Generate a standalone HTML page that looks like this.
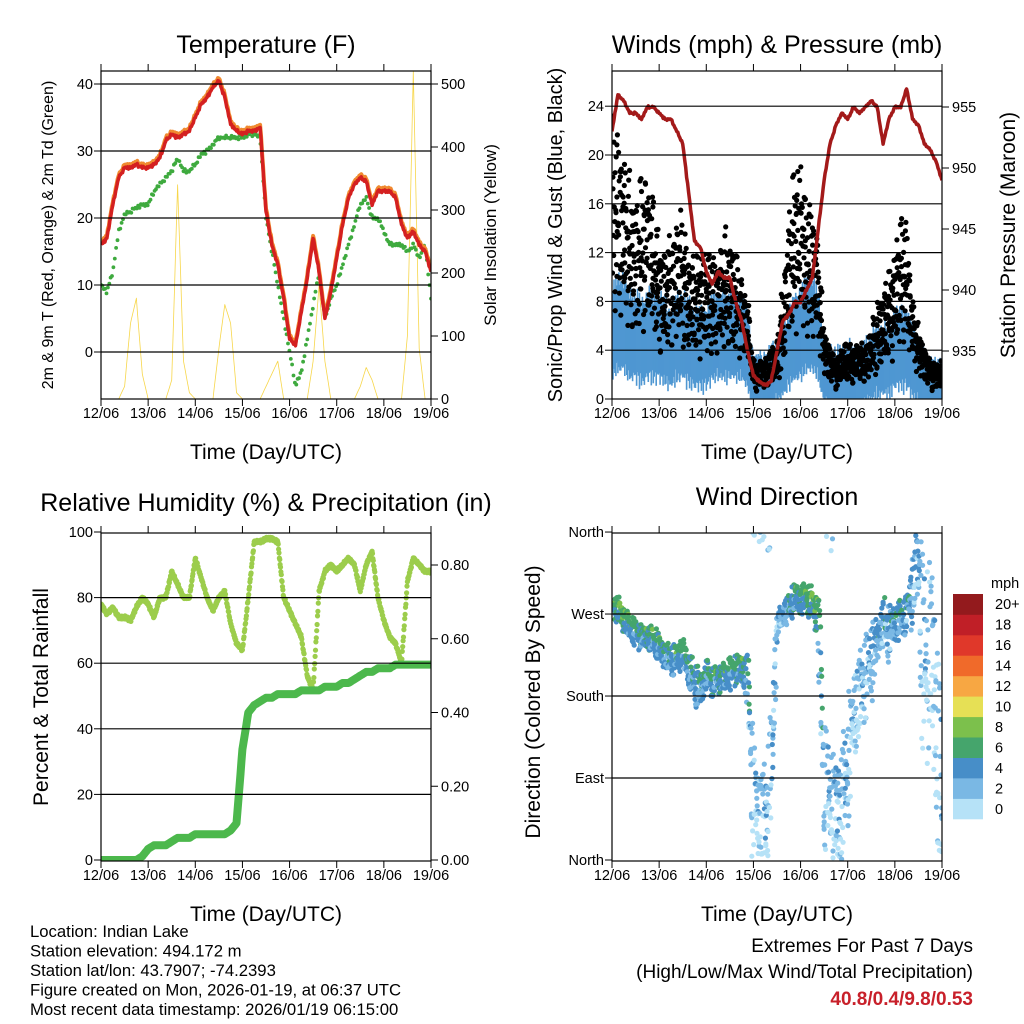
<!DOCTYPE html>
<html><head><meta charset="utf-8"><style>
html,body{margin:0;padding:0;background:#fff;}
svg{display:block;font-family:"Liberation Sans",sans-serif;}
</style></head><body>
<svg id="c" width="1024" height="1024" viewBox="0 0 1024 1024" xmlns="http://www.w3.org/2000/svg">
<rect width="1024" height="1024" fill="#fff"/>
<text x="266" y="53" font-size="25" text-anchor="middle">Temperature (F)</text>
<text x="777" y="53" font-size="25" text-anchor="middle">Winds (mph) &amp; Pressure (mb)</text>
<text x="266" y="511" font-size="25" text-anchor="middle">Relative Humidity (%) &amp; Precipitation (in)</text>
<text x="777" y="505" font-size="25" text-anchor="middle">Wind Direction</text>
<text transform="translate(53,235) rotate(-90)" font-size="16" text-anchor="middle">2m &amp; 9m T (Red, Orange) &amp; 2m Td (Green)</text>
<text transform="translate(496,235) rotate(-90)" font-size="17" text-anchor="middle">Solar Insolation (Yellow)</text>
<text transform="translate(562,235) rotate(-90)" font-size="20" text-anchor="middle">Sonic/Prop Wind &amp; Gust (Blue, Black)</text>
<text transform="translate(1015,235) rotate(-90)" font-size="21" text-anchor="middle">Station Pressure (Maroon)</text>
<text transform="translate(48,697) rotate(-90)" font-size="21" text-anchor="middle">Percent &amp; Total Rainfall</text>
<text transform="translate(540,702) rotate(-90)" font-size="21" text-anchor="middle">Direction (Colored By Speed)</text>
<g font-size="16.7">
<text x="30" y="937">Location: Indian Lake</text>
<text x="30" y="956.5">Station elevation: 494.172 m</text>
<text x="30" y="976">Station lat/lon: 43.7907; -74.2393</text>
<text x="30" y="995.5">Figure created on Mon, 2026-01-19, at 06:37 UTC</text>
<text x="30" y="1015">Most recent data timestamp: 2026/01/19 06:15:00</text>
</g>
<g font-size="19" text-anchor="end">
<text x="973" y="952">Extremes For Past 7 Days</text>
<text x="973" y="978">(High/Low/Max Wind/Total Precipitation)</text>
<text x="973" y="1005" fill="#c8202a" font-weight="bold">40.8/0.4/9.8/0.53</text>
</g>
</svg>
<script>
// ---- data (3-hourly, hours 0..168) ----
const dayLabels=["12/06","13/06","14/06","15/06","16/06","17/06","18/06","19/06"];
const tempT=[16,17,22,26,27.5,27.5,28,27.5,27.5,28,29,31.5,32.5,32,32.5,33,35,37,38,39.5,40.5,38,34,33,32.5,33,33,33.5,21,16,13,8,2,1,6,11,17,12,5,9,14,19,23,25,26,25.5,22,24,24,24,23,19,17,18,16,15,12];
const tempTd=[10,9,12,18,20.5,21,21.5,22,22,24,25,26,27,29,27,27,28,29.5,30,31,32,32,32,32,32,32.5,32.5,32,20,15,10,5,0,-5,-3,2,7,12,5,8,10,13,16,19,22,23,20,20,18,16,16,16,15,16,14,16,8];
const solar=[0,0,0,0,20,120,160,40,0,0,0,0,30,340,60,10,0,0,0,0,80,150,120,10,0,0,0,0,20,40,60,0,0,0,0,0,60,180,60,0,0,0,0,0,20,50,30,0,0,0,0,0,100,520,80,0,0];
const pressure=[953,956,955.5,954.5,954.5,954,955,955,954.5,954,954,953,952,948,944,943.5,941.5,940.5,941.5,941,941,939,937.5,935,933,932.5,932.2,932.5,935,937.5,938,939,939,940,941,945,949,952,953.5,954.5,954,955,954.5,955,955.5,955,952,954,955,955,956.5,954,953.5,952,951.5,950.5,949];
const windMean=[5,6,6,5,5,4.5,5,5,5,4.5,4,5,5,4.5,4,4,4,5,5,5,5,5,5,4,1,1.5,1,2,2,3,4,5,5,6,6,5,2,1.5,1.5,1.5,2,1.5,1.5,2,2.5,3,3,3,4,4,4,3,2,1.5,1,1,1];
const windGust=[16,15,14,12,11,12,13,11,9,8,9,10,10,8,8,8,8,8,8,9,9,8,7,6,2,2,2,3,3,6,10,13,13,11,11,9,4,3,2,3,3,3,3,3,4,5,6,7,8,10,10,6,4,3,2,2,2];
const rh=[78,75,77,74,74,73,77,80,78,74,80,80,88,84,80,80,92,86,80,76,80,82,72,66,64,80,97,97,98,98,97,80,76,72,68,56,52,82,88,90,88,90,92,90,82,90,94,80,73,68,66,60,85,92,90,88,88];
const precip=[0,0,0,0,0,0,0,0.01,0.03,0.04,0.04,0.04,0.05,0.06,0.06,0.06,0.07,0.07,0.07,0.07,0.07,0.07,0.08,0.10,0.30,0.40,0.42,0.43,0.44,0.44,0.45,0.45,0.45,0.45,0.46,0.46,0.46,0.46,0.47,0.47,0.47,0.48,0.48,0.49,0.50,0.51,0.51,0.52,0.52,0.52,0.53,0.53,0.53,0.53,0.53,0.53,0.53];
const windDir=[280,275,265,255,250,245,245,240,235,225,220,220,230,210,195,185,205,195,200,200,205,210,210,200,60,50,40,80,260,270,275,290,285,290,280,270,80,60,50,60,100,160,180,200,220,240,260,250,260,265,270,300,330,200,240,160,30];
const dirSpread=[12,12,12,12,12,12,12,12,14,14,14,14,15,15,18,18,15,15,15,15,15,15,15,20,60,60,60,80,15,15,15,15,15,15,15,20,60,60,60,60,60,60,50,40,40,30,25,25,20,20,20,40,40,100,100,100,60];
const speedBins=["0","2","4","6","8","10","12","14","16","18","20+"];
const speedColors=["#b6e2f7","#7ab8e4","#478ec8","#45a56c","#7cc04c","#e6e055","#f7a743","#f06a2a","#e0382a","#c01f27","#931a1d"];
const tempTicks=[0,10,20,30,40], solarTicks=[0,100,200,300,400,500];
const windTicks=[0,4,8,12,16,20,24], presTicks=[935,940,945,950,955];
const rhTicks=[0,20,40,60,80,100], precTicks=[0,0.2,0.4,0.6,0.8], precLbl=["0.00","0.20","0.40","0.60","0.80"];
const dirTicks=[0,90,180,270,360], dirLbl=["North","East","South","West","North"];
const JIT=[0.1,-0.7,0.5,-0.3,0.9,-0.9,0.3,-0.5,0.7,-0.1,0.6,-0.6,0.2,-0.8,0.8,-0.2,0.4,-0.4,0.05,-0.95,0.35,-0.15,0.75,-0.65];
function jit(k){return JIT[k%JIT.length]*0.7+JIT[(k*7+3)%17]*0.3;}

const svg=document.getElementById('c');const NS="http://www.w3.org/2000/svg";
function mk(t,a,p){const e=document.createElementNS(NS,t);for(const k in a)e.setAttribute(k,a[k]);(p||svg).appendChild(e);return e;}
function interp(arr,h){const i=Math.min(Math.floor(h/3),arr.length-2);const f=(h-i*3)/3;return arr[i]*(1-f)+arr[i+1]*f;}
const W=330,H=328;
function panel(name,x0,y0,id){
  const g=mk('g',{});  
  const cp=mk('clipPath',{id:id},g); mk('rect',{x:x0,y:y0,width:W,height:H},cp);
  const inner=mk('g',{'clip-path':'url(#'+id+')'},g);
  return {g,inner,x0,y0,xs:h=>x0+h/168*W};
}
function frame(P,leftTicks,ly,leftLbl,rightTicks,ry,rightLbl,grid){
  const {g,x0,y0}=P;
  if(grid) leftTicks.forEach(v=>{const y=ly(v);if(y>y0+1&&y<y0+H-1){const l=mk('line',{x1:x0,x2:x0+W,y1:y,y2:y,stroke:'#000','stroke-width':1.2},g);}});
  mk('rect',{x:x0,y:y0,width:W,height:H,fill:'none',stroke:'#000','stroke-width':1.2},g);
  for(let d=0;d<=7;d++){const x=P.xs(d*24);mk('line',{x1:x,x2:x,y1:y0+H,y2:y0+H+7,stroke:'#000'},g);mk('line',{x1:x,x2:x,y1:y0,y2:y0-7,stroke:'#000'},g);
    const t=mk('text',{x:x,y:y0+H+19,'font-size':14.5,'text-anchor':'middle'},g);t.textContent=dayLabels[d];}
  const xt=mk('text',{x:x0+W/2,y:y0+H+60,'font-size':21,'text-anchor':'middle'},g);xt.textContent='Time (Day/UTC)';
  leftTicks.forEach((v,i)=>{const y=ly(v);mk('line',{x1:x0,x2:x0-7,y1:y,y2:y,stroke:'#000'},g);const t=mk('text',{x:x0-8,y:y+5,'font-size':14.5,'text-anchor':'end'},g);t.textContent=leftLbl[i];});
  if(rightTicks) rightTicks.forEach((v,i)=>{const y=ry(v);mk('line',{x1:x0+W,x2:x0+W+7,y1:y,y2:y,stroke:'#000'},g);const t=mk('text',{x:x0+W+10,y:y+5,'font-size':14.5},g);t.textContent=rightLbl[i];});
}
function polyline(P,arr,yf,attrs,name,noise){let pts=[];let k=0;for(let h=0;h<=168;h+=0.5){pts.push(P.xs(h).toFixed(1)+','+(yf(interp(arr,h))+(noise?jit(k++)*noise:0)).toFixed(1));}const e=mk('polyline',Object.assign({points:pts.join(' '),fill:'none','stroke-linejoin':'round'},attrs),P.inner);return e;}
function dots(P,arr,yf,r,col,step,name,noise){const g=mk('g',{fill:col},P.inner);let k=0;for(let h=0;h<=168;h+=step)mk('circle',{cx:P.xs(h).toFixed(1),cy:(yf(interp(arr,h))+(noise?jit(k++)*noise:0)).toFixed(1),r:r},g);}

// Panel 1 temperature
const yT=v=>352-v*6.7, yS=v=>399-v*0.63;
const P1=panel('temperature-panel',101,71,'c1');
polyline(P1,solar,yS,{stroke:'#f7d64a','stroke-width':0.8},'solar-line');
dots(P1,tempTd,yT,1.9,'#3eaa3e',0.7,'dewpoint-series',2.5);
polyline(P1,tempT,v=>yT(v+0.4),{stroke:'#f08a30','stroke-width':4},'temp-9m-line',2);
polyline(P1,tempT,yT,{stroke:'#d42020','stroke-width':3.5},'temp-2m-line',2);
frame(P1,tempTicks,yT,tempTicks.map(String),solarTicks,yS,solarTicks.map(String),true);

// Panel 2 winds
const yW=v=>399-v*12.2, yP=p=>351-(p-935)*12.2;
const P2=panel('winds-panel',612,71,'c2');
(function(){const g=mk('g',{stroke:'#4f97d2','stroke-width':1.6},P2.inner);let k=0;for(let h=0;h<=168;h+=0.25){const m=interp(windMean,h);const a=jit(k),b=jit(k+11);k++;const x=P2.xs(h).toFixed(1);
 mk('line',{x1:x,x2:x,y1:yW(m+1.2+m*0.35+a*1.6).toFixed(1),y2:yW(Math.max(0,m-1.2-m*0.3+b*1.4)).toFixed(1)},g);}})();
(function(){const g=mk('g',{fill:'#000'},P2.inner);let k=0;for(let h=0;h<=168;h+=0.12){const v=interp(windGust,h);const sp=Math.max(1,v*0.42);mk('circle',{cx:(P2.xs(h)+jit(k+5)).toFixed(1),cy:yW(v+jit(k)*sp*1.5).toFixed(1),r:2.6},g);k+=7;}})();
polyline(P2,pressure,yP,{stroke:'#a31a1a','stroke-width':3.5},'pressure-line',1.5);
frame(P2,windTicks,yW,windTicks.map(String),presTicks,yP,presTicks.map(String),true);

// Panel 3 RH
const yR=v=>860-v*3.28, yQ=v=>860-v*368.75;
const P3=panel('humidity-panel',101,533,'c3');
dots(P3,rh,yR,2.6,'#9ccd4c',0.2,'rh-series',2);
polyline(P3,precip,yQ,{stroke:'#4cb84c','stroke-width':8},'precip-line');
frame(P3,rhTicks,yR,rhTicks.map(String),precTicks,yQ,precLbl,true);

// Panel 4 direction
const yD=d=>860-d*0.911;
const P4=panel('direction-panel',612,533,'c4');
(function(){const g=mk('g',{},P4.inner);let k=0;for(let h=0;h<=168;h+=0.12){const d=interp(windDir,h),sp=interp(dirSpread,h),s=interp(windMean,h);const j=jit(k);k+=5;
 let dd=d+j*sp*1.4; dd=((dd%360)+360)%360; const s2=Math.max(0,s+jit(k+3)*3);
 const bi=Math.min(10,Math.round(s2/2));mk('circle',{cx:(P4.xs(h)+jit(k+9)*2).toFixed(1),cy:yD(dd).toFixed(1),r:2.6,fill:speedColors[bi]},g);}})();
frame(P4,dirTicks,yD,dirLbl,null,null,null,true);
// colorbar
(function(){const g=mk('g',{});const bh=225/11;
 speedColors.forEach((c,i)=>{const y=594+(10-i)*bh;mk('rect',{x:953,y:y.toFixed(1),width:30,height:(bh+0.3).toFixed(1),fill:c},g);const t=mk('text',{x:995,y:(y+bh/2+5).toFixed(1),'font-size':14.5},g);t.textContent=speedBins[i];});
 const t=mk('text',{x:991,y:588,'font-size':14.5},g);t.textContent='mph';})();
</script>
</body></html>
